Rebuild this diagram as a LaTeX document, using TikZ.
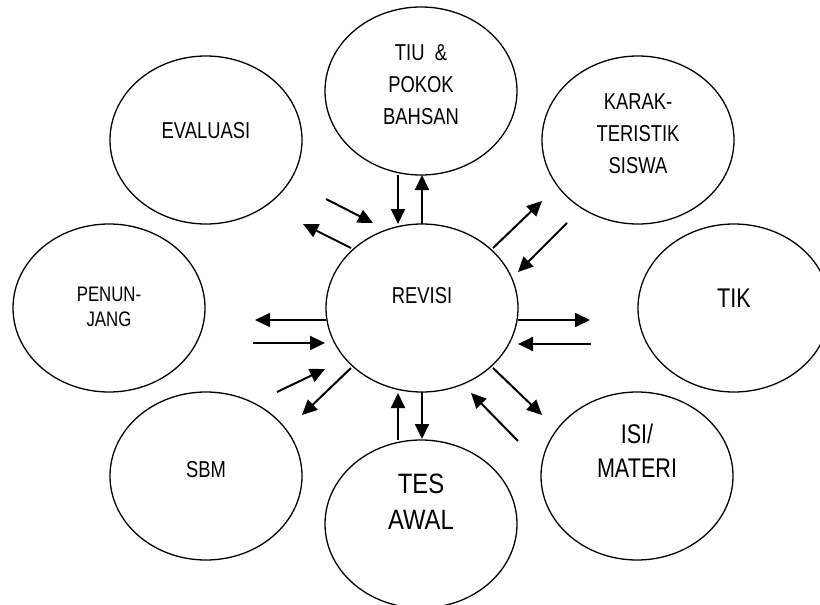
\documentclass[tikz,border=0pt]{standalone}
\usepackage{fontspec}
\usepackage{graphicx}
\setmainfont{Liberation Sans}
\usetikzlibrary{arrows.meta, shapes.geometric}

% narrow text block, lines centred
\newcommand{\squeeze}[2][0.8]{\scalebox{#1}[1]{\begin{tabular}{@{}c@{}}#2\end{tabular}}}

\begin{document}
\begin{tikzpicture}[
  x=1pt, y=-1pt,
  >={Triangle[length=15pt, width=14pt]},  % Arrow tip
  % Define bubble styles
  bubble/.style={
    draw,
    ellipse,
    line width=1.3pt,
    minimum width=192pt,
    minimum height=168pt,
    inner sep=0pt
  },
  txt/.style={
    inner sep=0pt,
    font=\fontsize{23}{32}\selectfont
  },
  smalltxt/.style={
    txt,
    font=\fontsize{21}{25}\selectfont
  },
  bigtxt/.style={
    txt,
    font=\fontsize{27}{34}\selectfont
  },
  % Arrows style
  connector/.style={
    ->,
    line width=2pt
  }
]
\useasboundingbox (0,0) rectangle (820,605);

% -----------------------------------------------
% CENTRE
% -----------------------------------------------
\node[bubble, label={[txt, yshift=11]center:\squeeze{REVISI}}] (revisi) at (422,308) {};

% -----------------------------------------------
% SURROUNDING BUBBLES
% -----------------------------------------------
\node[bubble, label={[txt, yshift=5]center:\squeeze{TIU~ \&\\POKOK\\BAHSAN}}] (tiu) at (421,91) {};
\node[bubble, label={[txt, yshift=5]center:\squeeze{KARAK-\\TERISTIK\\SISWA}}] (karakteristik) at (638,140) {};
\node[bubble, label={[bigtxt, yshift=7]center:\squeeze{TIK}}] (tik) at (734,308) {};
\node[bubble, label={[bigtxt, yshift=22]center:\squeeze{ISI/\\MATERI}}] (isi) at (637,476) {};
\node[bubble, label={[bigtxt, font=\fontsize{28}{36}\selectfont, yshift=20]center:\squeeze[0.85]{TES\\AWAL}}] (tes) at (421,524) {};
\node[bubble, label={[txt, yshift=5]center:\squeeze{SBM}}] (sbm) at (206,476) {};
\node[bubble, label={[smalltxt, yshift=-1]center:\squeeze{PENUN-\\JANG}}] (penunjang) at (109,308) {};
\node[bubble, label={[txt, yshift=8]center:\squeeze{EVALUASI}}] (evaluasi) at (206,140) {};

% -----------------------------------------------
% ARROWS AND CONNECTIONS
% -----------------------------------------------

% TIU & Pokok Bahsan
\draw[connector] ([shift={(-23,84)}]tiu.center) -- ([shift={(-24,-84)}]revisi.center);
\draw[connector] ([shift={(0,-84)}]revisi.center) -- ([shift={(1,84)}]tiu.center);

% Evaluasi
\draw[connector] ([shift={(120,59)}]evaluasi.center) -- ([shift={(-49,-85)}]revisi.center);
\draw[connector] ([shift={(-71,-60)}]revisi.center) -- ([shift={(97,84)}]evaluasi.center);

% Karakteristik siswa
\draw[connector] ([shift={(71,-60)}]revisi.center) -- ([shift={(-96,61)}]karakteristik.center);
\draw[connector] ([shift={(-71,83)}]karakteristik.center) -- ([shift={(96,-36)}]revisi.center);

% TIK
\draw[connector] ([shift={(96,12)}]revisi.center) -- ([shift={(-144,12)}]tik.center);
\draw[connector] ([shift={(-143,36)}]tik.center) -- ([shift={(96,36)}]revisi.center);

% Penunjang
\draw[connector] ([shift={(-96,12)}]revisi.center) -- ([shift={(146,12)}]penunjang.center);
\draw[connector] ([shift={(144,35)}]penunjang.center) -- ([shift={(-97,35)}]revisi.center);

% SBM
\draw[connector] ([shift={(71,-84)}]sbm.center) -- ([shift={(-97,61)}]revisi.center);
\draw[connector] ([shift={(-71,60)}]revisi.center) -- ([shift={(96,-61)}]sbm.center);

% Tes awal
\draw[connector] ([shift={(-23,-84)}]tes.center) -- ([shift={(-24,85)}]revisi.center);
\draw[connector] ([shift={(0,84)}]revisi.center) -- ([shift={(1,-85)}]tes.center);

% Isi / materi
\draw[connector] ([shift={(71,60)}]revisi.center) -- ([shift={(-95,-61)}]isi.center);
\draw[connector] ([shift={(-119,-35)}]isi.center) -- ([shift={(49,85)}]revisi.center);

\end{tikzpicture}
\end{document}
